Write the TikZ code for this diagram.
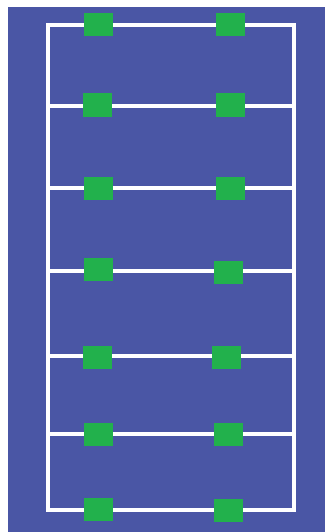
\documentclass[tikz,border=0pt]{standalone}
\usepackage{tikz}
\usetikzlibrary{positioning}
\definecolor{bgblue}{RGB}{74,86,165}
\definecolor{padgreen}{RGB}{34,177,76}
\tikzset{
    pad/.style={fill=padgreen, draw=none, minimum width=29pt, minimum height=23pt, inner sep=0pt},
    rung/.style={white, line width=4pt}
}
\begin{document}
\begin{tikzpicture}[x=1pt, y=-1pt]
    % canvas and background
    \useasboundingbox (0,0) rectangle (325,532);
    \fill[bgblue] (8,7) rectangle (325,532);

    % rungs of the ladder: index / line y / left pad / right pad
    \foreach \i/\ly/\ax/\ay/\bx/\by in {1/25/98.5/24.5/230/24.5, 2/106/97.5/105/230/105, 3/188/98.5/188/230/188, 4/271/98.5/269.5/228.5/272.5, 5/355.5/97.5/357/226.5/357, 6/434/98.5/434.5/228.5/434.5, 7/510/98.5/509.5/228.5/510.5} {
        \coordinate (L\i) at (47.5,\ly);
        \coordinate (R\i) at (293.5,\ly);
        \draw[rung] (L\i) -- (R\i);
    }

    % outer frame
    \draw[rung] (L1) rectangle (R7);

    % green pads on top
    \foreach \i/\ax/\ay/\bx/\by in {1/98.5/24.5/230/24.5, 2/97.5/105/230/105, 3/98.5/188/230/188, 4/98.5/269.5/228.5/272.5, 5/97.5/357/226.5/357, 6/98.5/434.5/228.5/434.5, 7/98.5/509.5/228.5/510.5} {
        \node[pad] (padA\i) at (\ax,\ay) {};
        \node[pad] (padB\i) at (\bx,\by) {};
    }
\end{tikzpicture}
\end{document}
